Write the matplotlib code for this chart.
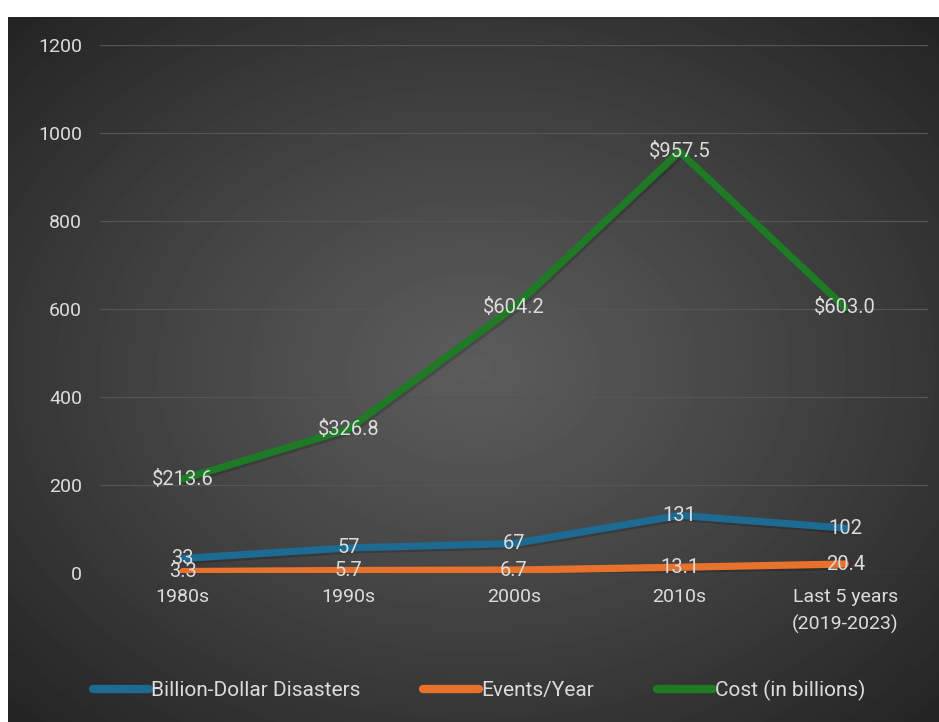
import numpy as np
import matplotlib.pyplot as plt
import matplotlib.patheffects as pe

categories = ["1980s", "1990s", "2000s", "2010s", "Last 5 years\n(2019-2023)"]
disasters = [33, 57, 67, 131, 102]
events_per_year = [3.3, 5.7, 6.7, 13.1, 20.4]
cost = [213.6, 326.8, 604.2, 957.5, 603.0]

disaster_labels = ["33", "57", "67", "131", "102"]
event_labels = ["3.3", "5.7", "6.7", "13.1", "20.4"]
cost_labels = ["$213.6", "$326.8", "$604.2", "$957.5", "$603.0"]

txt = "#dcdcdc"
plt.rcParams['font.family'] = ['Roboto', 'DejaVu Sans']

fig = plt.figure(figsize=(9.39, 7.22), dpi=100)
fig.patch.set_facecolor("white")

# radial gradient background
bg = fig.add_axes([8 / 939, 0, 931 / 939, 705 / 722])
yy, xx = np.mgrid[0:705, 0:931]
r = np.sqrt(((xx - 465) / 465.0) ** 2 + ((yy - 352) / 352.0) ** 2) / np.sqrt(2)
shade = 0.36 - 0.22 * np.clip(r, 0, 1) ** 1.1
bg.imshow(shade, cmap="gray", vmin=0, vmax=1, aspect="auto")
bg.axis("off")

ax = fig.add_axes([100 / 939, 149 / 722, 828 / 939, 528 / 722])
ax.patch.set_alpha(0)
x = np.arange(len(categories))

shadow = [pe.SimpleLineShadow(offset=(1.5, -1.5), shadow_color="black", alpha=0.18), pe.Normal()]
series = [
    (disasters, disaster_labels, "#1d6a92", "Billion-Dollar Disasters"),
    (events_per_year, event_labels, "#e8722c", "Events/Year"),
    (cost, cost_labels, "#1e7a24", "Cost (in billions)"),
]
for vals, labs, col, name in series:
    ax.plot(x, vals, color=col, lw=5.2, solid_capstyle="round", label=name, path_effects=shadow)
    for xi, v, lab in zip(x, vals, labs):
        ax.text(xi, v, lab, color=txt, fontsize=14.5, ha="center", va="center")

ax.set_xlim(-0.5, len(categories) - 0.5)
ax.set_ylim(0, 1200)
ax.set_yticks(np.arange(0, 1201, 200))
ax.set_xticks(x)
ax.set_xticklabels(categories, linespacing=1.55)
ax.tick_params(axis="both", colors=txt, labelsize=14, length=0)
ax.tick_params(axis="y", pad=13)
ax.tick_params(axis="x", pad=11)
ax.grid(axis="y", color="#555555", lw=0.9)
ax.set_axisbelow(True)
for s in ax.spines.values():
    s.set_visible(False)

leg = fig.legend(loc="center", bbox_to_anchor=(479 / 939, 32 / 722), ncol=3, frameon=False,
                 fontsize=15, handlelength=2.7, handletextpad=0.1, columnspacing=3.0)
for t in leg.get_texts():
    t.set_color(txt)
for h in leg.legend_handles:
    h.set_linewidth(6)
    h.set_path_effects([])

fig.savefig("out.png", dpi=100)
